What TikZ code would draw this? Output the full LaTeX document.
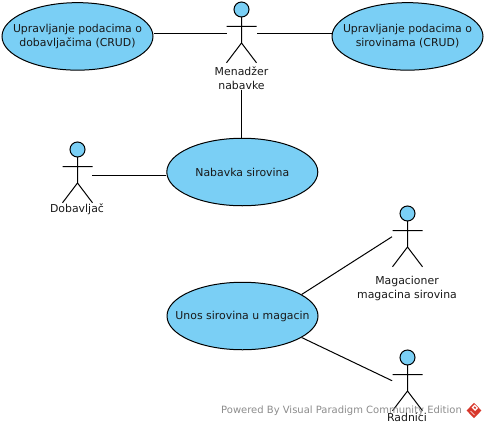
\documentclass[tikz,border=0pt]{standalone}
\usepackage{fontspec}
\setmainfont{DejaVu Sans}
\usetikzlibrary{shapes.geometric}
\definecolor{ucfill}{HTML}{7ACFF5}
\definecolor{wm}{HTML}{8C8C8C}
\definecolor{logored}{HTML}{D8382C}
\tikzset{
  x=1pt,y=-1pt,
  txt/.style={font=\fontsize{10.9}{14}\selectfont,align=center,inner sep=0pt,text=black!90},
  uc/.style={ellipse,draw=black,fill=ucfill,line width=1pt,minimum width=151pt,minimum height=67.5pt,inner sep=0pt},
  actorbox/.style={rectangle,minimum width=30.5pt,minimum height=30pt,inner sep=0pt},
  stick/.style={line width=1pt,draw=black},
  conn/.style={line width=1pt,draw=black},
  pics/actor/.style={code={
    \draw[stick,fill=ucfill] (0,-18.5) circle[radius=7.5pt];
    \draw[stick] (0,-11) -- (0,15) (-15,-1.5) -- (15,-1.5) (-15,34.8) -- (0,15) -- (15,34.8);
  }}
}
\begin{document}
\begin{tikzpicture}
\useasboundingbox (0,0) rectangle (486,428);
% use cases
\node[uc,label={[txt]center:Upravljanje podacima o\\dobavljačima (CRUD)}] (e1) at (77.5,36.4) {};
\node[uc,label={[txt]center:Upravljanje podacima o\\sirovinama (CRUD)}] (e2) at (407.5,36.4) {};
\node[uc,label={[txt]center:Nabavka sirovina}] (e3) at (242.3,172) {};
\node[uc,label={[txt]center:Unos sirovina u magacin}] (e4) at (242.5,316) {};
% actors
\pic at (241.5,28) {actor};
\node[actorbox] (a1) at (242,34) {};
\node[txt] (l1) at (241.5,78) {Menadžer\\nabavke};
\pic at (77.5,168) {actor};
\node[actorbox] (a2) at (77,175) {};
\node[txt] (l2) at (77,209.5) {Dobavljač};
\pic at (407.5,232) {actor};
\node[actorbox] (a3) at (407.5,236.7) {};
\node[txt] (l3) at (407,288) {Magacioner\\magacina sirovina};
\pic at (407.5,376) {actor};
\node[actorbox] (a4) at (407.5,380.7) {};
% connectors
\draw[conn] (e1.east |- a1.west) -- (a1.west);
\draw[conn] (a1.east) -- (e2.west |- a1.east);
\draw[conn] (l1.south) -- (e3.north -| l1.south);
\draw[conn] (a2.east) -- (e3.west |- a2.east);
\draw[conn] (e4.20) -- (a3.west);
\draw[conn] (e4.-20) -- (a4.west);
% watermark
\node[font=\fontsize{10}{12}\selectfont,text=wm,inner sep=0pt,anchor=west] (wm) at (221,411) {Powered By Visual Paradigm Community Edition};
\node[txt] (l4) at (407,417) {Radnici};
\node[diamond,fill=logored,minimum width=15pt,minimum height=15.5pt,inner sep=0pt] (logo) at (474,410.5) {};
\fill[white] (474.5,404.5) -- (478,408) -- (475,411) -- (471.5,407.5) -- cycle;
\fill[logored] (474.7,406.3) -- (476.2,407.8) -- (475,409) -- (473.5,407.5) -- cycle;
\draw[white,line width=0.6pt] (470.5,411) -- (474.5,415);
\end{tikzpicture}
\end{document}
